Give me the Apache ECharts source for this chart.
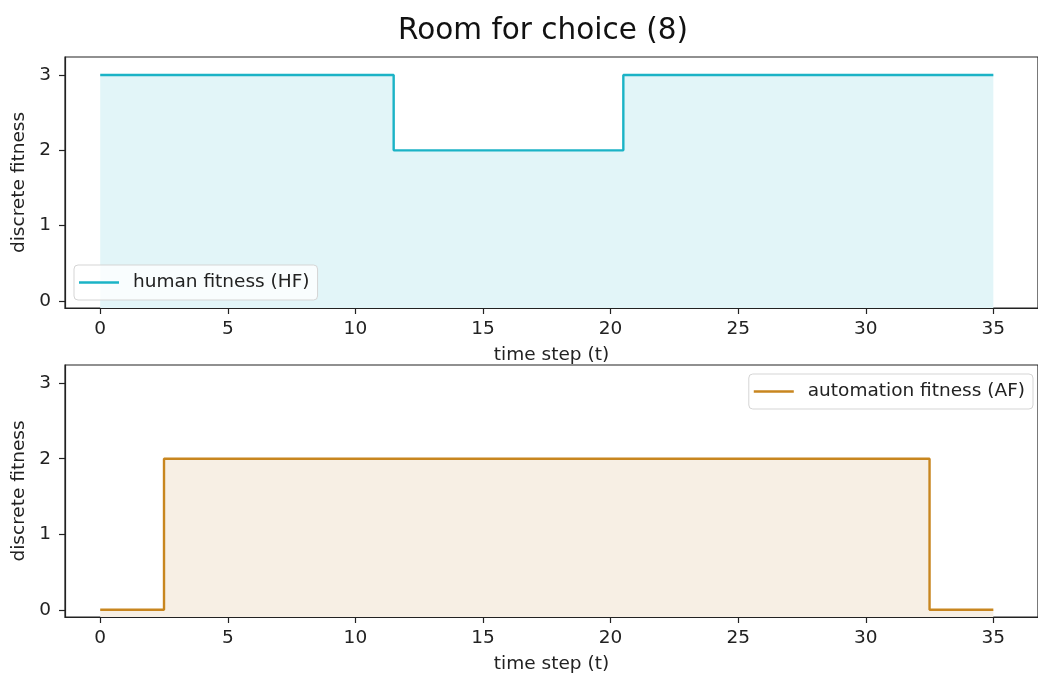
<!DOCTYPE html>
<html>
<head>
<meta charset="utf-8">
<script src="https://cdn.jsdelivr.net/npm/echarts@6/dist/echarts.min.js"></script>
<style>
  html, body { margin: 0; padding: 0; background: #fff; }
  #chart { width: 1038px; height: 677px; }
</style>
</head>
<body>
<div id="chart"></div>
<script>
// Time steps and discrete fitness levels per step
const timeSteps = Array.from({ length: 36 }, (_, i) => i);
const humanFitness = [
  3, 3, 3, 3, 3, 3, 3, 3, 3, 3, 3, 3,
  2, 2, 2, 2, 2, 2, 2, 2, 2,
  3, 3, 3, 3, 3, 3, 3, 3, 3, 3, 3, 3, 3, 3, 3
];
const automationFitness = [
  0, 0, 0,
  2, 2, 2, 2, 2, 2, 2, 2, 2, 2, 2, 2, 2, 2, 2, 2, 2, 2, 2, 2, 2, 2, 2, 2, 2, 2, 2, 2, 2, 2,
  0, 0, 0
];
const xTickValues = [0, 5, 10, 15, 20, 25, 30, 35];
const yTickValues = [0, 1, 2, 3];

const FONT = 'DejaVu Sans';
const FS = 18.5;
const TEXT = '#222';
const HF_COLOR = '#1bb3c6';
const HF_FILL = '#e2f5f8';
const AF_COLOR = '#c8861f';
const AF_FILL = '#f7efe4';

const pairs = (xs, ys) => xs.map((x, i) => [x, ys[i]]);

function xAxisFor(gridIndex) {
  return {
    type: 'value', gridIndex,
    min: -1.38, max: 36.75,
    name: 'time step (t)', nameLocation: 'middle', nameGap: 38,
    nameTextStyle: { fontFamily: FONT, fontSize: FS, color: TEXT },
    axisLine: { show: true, onZero: false, lineStyle: { color: '#222', width: 1.2 } },
    axisTick: { show: true, length: 6, customValues: xTickValues, lineStyle: { color: '#222', width: 1.2 } },
    axisLabel: { customValues: xTickValues, margin: 12, fontFamily: FONT, fontSize: FS, color: TEXT },
    splitLine: { show: false }
  };
}
function yAxisFor(gridIndex) {
  return {
    type: 'value', gridIndex,
    min: -0.095, max: 3.24,
    name: 'discrete fitness', nameLocation: 'middle', nameGap: 35, nameRotate: 90,
    nameTextStyle: { fontFamily: FONT, fontSize: FS, color: TEXT },
    axisLine: { show: true, onZero: false, lineStyle: { color: '#222', width: 1.2 } },
    axisTick: { show: true, length: 6, customValues: yTickValues, lineStyle: { color: '#222', width: 1.2 } },
    axisLabel: { customValues: yTickValues, margin: 14, fontFamily: FONT, fontSize: FS, color: TEXT },
    splitLine: { show: false }
  };
}
function legendFor(name, pos) {
  return Object.assign({
    data: [name],
    orient: 'vertical',
    icon: 'rect',
    itemWidth: 40, itemHeight: 2.5,
    padding: [8, 8, 8, 5],
    backgroundColor: 'rgba(255,255,255,0.8)',
    borderColor: '#d5d5d5', borderWidth: 1, borderRadius: 4,
    textStyle: { fontFamily: FONT, fontSize: FS, color: TEXT, padding: [0, 0, 0, 9] }
  }, pos);
}

const chart = echarts.init(document.getElementById('chart'), null, { renderer: 'canvas' });
chart.setOption({
  animation: false,
  backgroundColor: '#fff',
  title: {
    text: 'Room for choice (8)',
    left: 538, top: 11, textAlign: 'center',
    textStyle: { fontFamily: FONT, fontSize: 29.5, fontWeight: 'normal', color: '#111' }
  },
  grid: [
    { left: 65, top: 57, width: 975, height: 251, show: true, borderColor: '#222', borderWidth: 1.2, backgroundColor: 'transparent' },
    { left: 65, top: 365, width: 975, height: 252, show: true, borderColor: '#222', borderWidth: 1.2, backgroundColor: 'transparent' }
  ],
  xAxis: [xAxisFor(0), xAxisFor(1)],
  yAxis: [yAxisFor(0), yAxisFor(1)],
  legend: [
    legendFor('human fitness (HF)', { left: 74, top: 265 }),
    legendFor('automation fitness (AF)', { right: 5, top: 374 })
  ],
  series: [
    {
      name: 'human fitness (HF)', type: 'line', step: 'middle',
      xAxisIndex: 0, yAxisIndex: 0,
      data: pairs(timeSteps, humanFitness),
      showSymbol: false, symbol: 'none',
      lineStyle: { color: HF_COLOR, width: 2.4 },
      itemStyle: { color: HF_COLOR },
      areaStyle: { color: HF_FILL, opacity: 1, origin: 'start' },
      z: 3
    },
    {
      name: 'automation fitness (AF)', type: 'line', step: 'middle',
      xAxisIndex: 1, yAxisIndex: 1,
      data: pairs(timeSteps, automationFitness),
      showSymbol: false, symbol: 'none',
      lineStyle: { color: AF_COLOR, width: 2.4 },
      itemStyle: { color: AF_COLOR },
      areaStyle: { color: AF_FILL, opacity: 1, origin: 'start' },
      z: 3
    }
  ]
});
</script>
</body>
</html>
